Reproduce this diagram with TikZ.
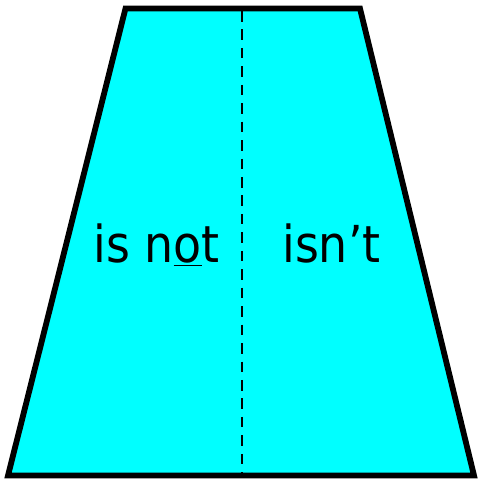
\documentclass[tikz,border=0pt]{standalone}
\usepackage{fontspec}
\setmainfont{DejaVu Sans Condensed}
\usetikzlibrary{positioning,calc}
\definecolor{slabcyan}{RGB}{0,255,255}

\begin{document}
\begin{tikzpicture}[
          x=0.02cm, y=-0.02cm,
          every node/.style={font=\fontsize{29}{34}\selectfont, inner sep=0pt},
          slab/.style={draw=black, fill=slabcyan, line width=3.3pt, line join=miter},
          split/.style={draw=black, line width=1.6pt, dash pattern=on 6pt off 4.5pt}
      ]
        \useasboundingbox (0,0) rectangle (477,479);
        % trapezoid
        \coordinate (tl) at (125.5,8.5);
        \coordinate (tr) at (360,8.5);
        \coordinate (br) at (474,475.5);
        \coordinate (bl) at (8,475.5);
        \draw[slab] (tl) -- (tr) -- (br) -- (bl) -- cycle;
        % dividing line
        \coordinate (mt) at (242,11);
        \coordinate (mb) at (242,473);
        \draw[split] (mt) -- (mb);
        % labels
        \node[anchor=base west] (long) at (93,262) {is n\underline{o}t};
        \node[anchor=base west] (short) at (282,262) {isn’t};
      \end{tikzpicture}
\end{document}
